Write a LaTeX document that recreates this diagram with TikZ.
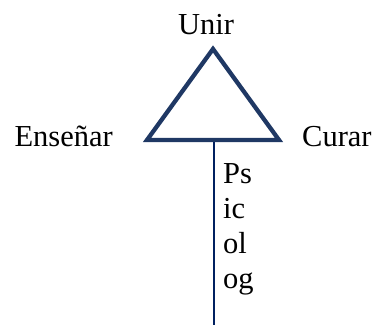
\documentclass[tikz,border=0pt]{standalone}
\usepackage{fontspec}
\setmainfont{Liberation Serif}
\usepackage{tikz}
\usetikzlibrary{positioning}
\definecolor{trianglecolor}{RGB}{31,56,100}
\definecolor{stemcolor}{RGB}{0,32,96}

\begin{document}
\begin{tikzpicture}[x=1pt, y=1pt, font=\fontsize{30.5}{35}\selectfont, word/.style={inner sep=0pt}]
    \useasboundingbox (0,0) rectangle (378,329);

    \coordinate (apex) at (213,280);
    \coordinate [below left=91pt and 66pt of apex] (left);
    \coordinate [below right=91pt and 66pt of apex] (right);
    \coordinate (stemtop) at (214,189);
    \coordinate [below=185pt of stemtop] (stembottom);

    \draw [stemcolor, line width=2.8pt] (stemtop) -- (stembottom);
    \draw [trianglecolor, line width=4.3pt] (apex) -- (left) -- (right) -- cycle;

    \node [word, anchor=base] (unir) at (206,294) {Unir};
    \node [word, anchor=base east] (ensenar) at (113,182) {Enseñar};
    \node [word, anchor=base west] (curar) at (302,182) {Curar};
    % base of a multi-line node sits on its last line
    \node [word, anchor=base west, align=left] (psicolog) at (223,40) {Ps\\ic\\ol\\og};
\end{tikzpicture}
\end{document}
